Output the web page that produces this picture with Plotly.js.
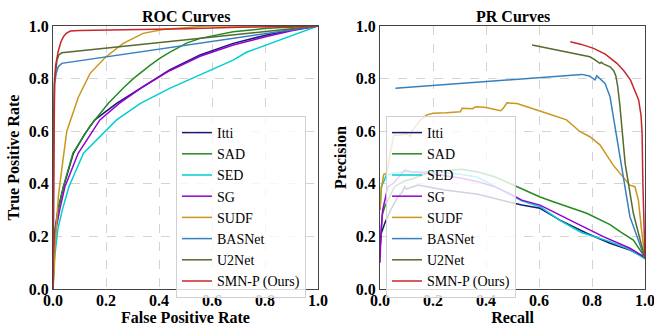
<!DOCTYPE html>
<html>
<head>
<meta charset="utf-8">
<script src="https://cdn.plot.ly/plotly-3.0.1.min.js"></script>
<style>html,body{margin:0;padding:0;background:#fff;}#chart{width:654px;height:326px;}</style>
</head>
<body>
<div id="chart"></div>
<script>
// ---------- data ----------
const methods = ["Itti", "SAD", "SED", "SG", "SUDF", "BASNet", "U2Net", "SMN-P (Ours)"];
const colors = ["#191970", "#228B22", "#00CED1", "#9400D3", "#C9971C", "#3580c0", "#556B2F", "#c8262b"];
const tickVals = [0, 0.2, 0.4, 0.6, 0.8, 1.0];
const tickText = ["0.0", "0.2", "0.4", "0.6", "0.8", "1.0"];

// ROC curves (FPR, TPR)
const rocIttiX = [0,0.002,0.008,0.02,0.04,0.077,0.12,0.158,0.24,0.34,0.44,0.555,0.68,0.806,0.9,1];
const rocIttiY = [0,0.1,0.23,0.31,0.39,0.516,0.59,0.643,0.706,0.769,0.833,0.89,0.934,0.966,0.985,1];
const rocSadX = [0,0.002,0.008,0.02,0.039,0.075,0.14,0.209,0.27,0.303,0.366,0.404,0.44,0.504,0.555,0.68,0.806,1];
const rocSadY = [0,0.1,0.22,0.3,0.389,0.516,0.62,0.706,0.769,0.8,0.85,0.878,0.9,0.935,0.953,0.978,0.991,1];
const rocSedX = [0,0.004,0.018,0.035,0.06,0.115,0.24,0.33,0.44,0.555,0.68,0.73,0.806,0.93,1];
const rocSedY = [0,0.1,0.226,0.3,0.389,0.516,0.643,0.706,0.763,0.814,0.87,0.9,0.928,0.972,1];
const rocSgX = [0,0.003,0.01,0.025,0.045,0.095,0.177,0.25,0.34,0.44,0.555,0.68,0.806,0.9,1];
const rocSgY = [0,0.1,0.22,0.3,0.389,0.516,0.643,0.706,0.769,0.83,0.885,0.928,0.96,0.982,1];
const rocSudfX = [0,0.004,0.01,0.02,0.035,0.052,0.096,0.14,0.2,0.265,0.34,0.415,0.58,1];
const rocSudfY = [0,0.06,0.2,0.35,0.47,0.6,0.73,0.82,0.883,0.934,0.972,0.987,1,1];
const rocBasX = [0,0.001,0.003,0.006,0.012,0.02,0.033,1];
const rocBasY = [0,0.3,0.6,0.78,0.82,0.845,0.858,1];
const rocU2X = [0,0.001,0.005,0.01,0.015,0.022,0.033,1];
const rocU2Y = [0,0.6,0.78,0.84,0.87,0.89,0.898,1];
const rocSmnX = [0,0.003,0.006,0.01,0.02,0.03,0.04,0.05,0.065,0.1,0.3,0.5,0.7,1];
const rocSmnY = [0,0.72,0.8,0.85,0.905,0.94,0.96,0.972,0.981,0.983,0.986,0.99,0.995,1];

// PR curves (Recall, Precision)
const prIttiX = [0.0,0.005,0.018,0.04,0.068,0.085,0.093,0.1,0.143,0.244,0.37,0.453,0.535,0.604,0.679,0.78,0.868,0.943,1.0];
const prIttiY = [0.15,0.212,0.25,0.3,0.351,0.37,0.389,0.38,0.395,0.376,0.36,0.34,0.319,0.307,0.262,0.212,0.174,0.148,0.12];
const prSadX = [0.0,0.008,0.018,0.035,0.055,0.09,0.126,0.18,0.24,0.307,0.37,0.433,0.47,0.535,0.604,0.654,0.78,0.868,0.906,0.956,0.994,1.0];
const prSadY = [0.15,0.28,0.313,0.35,0.389,0.41,0.42,0.44,0.45,0.455,0.445,0.427,0.41,0.383,0.35,0.332,0.288,0.245,0.218,0.186,0.13,0.12];
const prSedX = [0.0,0.005,0.015,0.024,0.05,0.093,0.2,0.3,0.37,0.45,0.535,0.604,0.68,0.76,0.868,0.943,1.0];
const prSedY = [0.3,0.389,0.41,0.433,0.44,0.446,0.447,0.437,0.425,0.38,0.335,0.313,0.26,0.215,0.18,0.15,0.115];
const prSgX = [0.0,0.003,0.01,0.03,0.052,0.075,0.093,0.12,0.18,0.303,0.37,0.43,0.495,0.535,0.604,0.717,0.843,0.943,1.0];
const prSgY = [0.1,0.2,0.3,0.389,0.403,0.43,0.452,0.445,0.44,0.422,0.408,0.39,0.36,0.338,0.319,0.262,0.199,0.155,0.12];
const prSudfX = [0.0,0.005,0.014,0.025,0.03,0.04,0.052,0.075,0.1,0.115,0.12,0.133,0.15,0.177,0.2,0.25,0.303,0.31,0.316,0.35,0.355,0.366,0.4,0.45,0.455,0.465,0.479,0.517,0.56,0.629,0.704,0.755,0.792,0.83,0.88,0.918,0.943,0.962,0.975,0.987,1.0];
const prSudfY = [0.3,0.38,0.435,0.44,0.47,0.52,0.585,0.585,0.59,0.58,0.6,0.617,0.64,0.662,0.668,0.67,0.674,0.687,0.687,0.685,0.69,0.693,0.69,0.68,0.678,0.687,0.708,0.705,0.69,0.668,0.643,0.598,0.579,0.548,0.471,0.427,0.395,0.389,0.338,0.224,0.115];
const prBasX = [0.058,0.761,0.79,0.805,0.811,0.818,0.83,0.849,0.868,0.9,0.943,1.0];
const prBasY = [0.763,0.816,0.81,0.798,0.795,0.811,0.8,0.782,0.731,0.54,0.275,0.115];
const prU2X = [0.574,0.792,0.81,0.82,0.83,0.835,0.843,0.868,0.882,0.89,0.897,0.905,0.925,0.956,1.0];
const prU2Y = [0.928,0.883,0.872,0.865,0.858,0.862,0.856,0.845,0.83,0.81,0.77,0.7,0.478,0.288,0.115];
const prSmnX = [0.718,0.76,0.806,0.85,0.894,0.92,0.945,0.965,0.976,0.985,0.989,0.992,1.0];
const prSmnY = [0.94,0.93,0.915,0.893,0.858,0.83,0.795,0.75,0.719,0.66,0.593,0.4,0.115];

const rocData = [[rocIttiX,rocIttiY],[rocSadX,rocSadY],[rocSedX,rocSedY],[rocSgX,rocSgY],[rocSudfX,rocSudfY],[rocBasX,rocBasY],[rocU2X,rocU2Y],[rocSmnX,rocSmnY]];
const prData = [[prIttiX,prIttiY],[prSadX,prSadY],[prSedX,prSedY],[prSgX,prSgY],[prSudfX,prSudfY],[prBasX,prBasY],[prU2X,prU2Y],[prSmnX,prSmnY]];

// ---------- traces ----------
const traces = [];
methods.forEach((m, i) => {
  traces.push({x: rocData[i][0], y: rocData[i][1], name: m, mode: "lines", type: "scatter",
    line: {color: colors[i], width: 1.5}, xaxis: "x", yaxis: "y", legend: "legend"});
});
methods.forEach((m, i) => {
  traces.push({x: prData[i][0], y: prData[i][1], name: m, mode: "lines", type: "scatter",
    line: {color: colors[i], width: 1.5}, xaxis: "x2", yaxis: "y2", legend: "legend2"});
});

// ---------- layout ----------
const W = 654, H = 326;
const serif = "Liberation Serif";
const tickFont = {family: serif, size: 16, color: "#000", weight: 700};
const titleFont = {family: serif, size: 16, color: "#000", weight: 700};
function axis(domain, anchor, title, isY) {
  const a = {
    domain: domain, anchor: anchor, range: [0, 1], tickvals: tickVals, ticktext: tickText,
    tickfont: tickFont, showgrid: true, gridcolor: "#c8c8c8", griddash: "dash", gridwidth: 0.8,
    zeroline: false, showline: true, mirror: true, linecolor: "#444", linewidth: 1,
    ticks: "", ticklabeloverflow: "allow",
    title: {text: title, font: titleFont, standoff: isY ? 5 : 2}
  };
  if (!isY) a.ticklabelstandoff = -3;
  return a;
}
const yDom = [1 - 289 / H, 1 - 26 / H];
const legendCommon = {
  bgcolor: "rgba(255,255,255,0.8)", bordercolor: "#d0d0d0", borderwidth: 1,
  font: {family: serif, size: 14, color: "#000"}, xanchor: "left", yanchor: "top",
  itemwidth: 30, tracegroupgap: 0
};
const layout = {
  width: W, height: H, margin: {l: 0, r: 0, t: 0, b: 0},
  paper_bgcolor: "#fff", plot_bgcolor: "#fff", showlegend: true,
  xaxis: axis([53 / W, 318 / W], "y", "False Positive Rate", false),
  yaxis: axis(yDom, "x", "True Positive Rate", true),
  xaxis2: axis([380 / W, 645 / W], "y2", "Recall", false),
  yaxis2: axis(yDom, "x2", "Precision", true),
  legend: Object.assign({x: 176 / W, y: 1 - 116 / H}, legendCommon),
  legend2: Object.assign({x: 386 / W, y: 1 - 116 / H}, legendCommon),
  annotations: [
    {text: "ROC Curves", x: 185.5 / W, y: 1 - 16 / H, xref: "paper", yref: "paper",
     xanchor: "center", yanchor: "middle", showarrow: false, font: titleFont},
    {text: "PR Curves", x: 512.5 / W, y: 1 - 16 / H, xref: "paper", yref: "paper",
     xanchor: "center", yanchor: "middle", showarrow: false, font: titleFont}
  ]
};
Plotly.newPlot("chart", traces, layout, {displayModeBar: false, staticPlot: true});
</script>
</body>
</html>
